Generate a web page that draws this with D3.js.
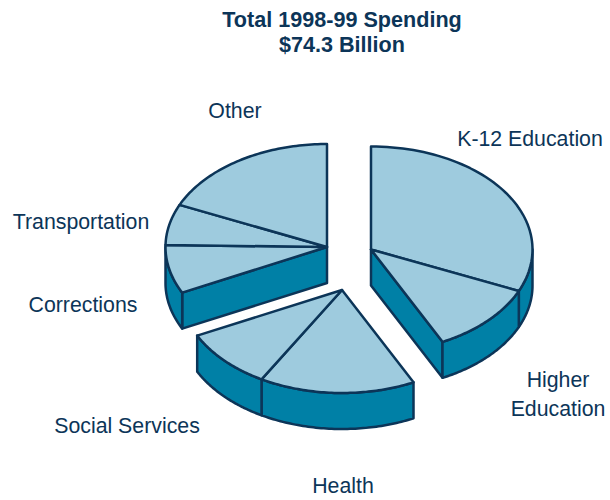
<!DOCTYPE html>
<html>
<head>
<meta charset="utf-8">
<script src="https://cdn.jsdelivr.net/npm/d3@7"></script>
<style>
html,body{margin:0;padding:0;background:#fff}
text{font-family:"Liberation Sans",Arial,sans-serif;fill:#0c3558}
</style>
</head>
<body>
<svg id="chart" width="610" height="500"></svg>
<script>
// Budget shares, percent of total spending, clockwise from twelve o'clock
const categories = ["K-12 Education", "Higher Education", "Health", "Social Services", "Corrections", "Transportation", "Other"];
const shares = [31.6, 11.1, 15.6, 9.4, 7.6, 6.4, 18.3];
const titleLines = ["Total 1998-99 Spending", "$74.3 Billion"];

const INK = "#0c3558", TOP = "#9ecbde", SIDE = "#0080a6";
const RX = 161.5, RY = 103, DEPTH = 36;

// Slices are pulled apart in three groups, each with its own apex
const clusters = [
  {members: [0, 1], cx: 371, cy: 249.5},
  {members: [2, 3], cx: 342, cy: 290},
  {members: [4, 5, 6], cx: 327, cy: 247}
];
const labelLayout = {
  "K-12 Education":  {x: 530, y: 146, lines: ["K-12 Education"]},
  "Higher Education":{x: 558, y: [387, 416], lines: ["Higher", "Education"]},
  "Health":          {x: 343, y: 493, lines: ["Health"]},
  "Social Services": {x: 127, y: 433, lines: ["Social Services"]},
  "Corrections":     {x: 83,  y: 312, lines: ["Corrections"]},
  "Transportation":  {x: 81,  y: 229, lines: ["Transportation"]},
  "Other":           {x: 235, y: 118, lines: ["Other"]}
};

const svg = d3.select("#chart");
const arcs = d3.pie().sort(null).value(d => d)(shares);

// Elliptical projection: angle measured clockwise from the top
const xScale = d3.scaleLinear().domain([-1, 1]).range([-RX, RX]);
const yScale = d3.scaleLinear().domain([-1, 1]).range([-RY, RY]);
const rimPoint = a => [xScale(Math.sin(a)), yScale(-Math.cos(a))];
const line = d3.line();
const rim = (a0, a1) => d3.range(0, 61).map(i => rimPoint(a0 + (a1 - a0) * i / 60));

const style = sel => sel.attr("stroke", INK).attr("stroke-width", 2.5).attr("stroke-linejoin", "round");

clusters.forEach(c => {
  const g = svg.append("g").attr("transform", `translate(${c.cx},${c.cy})`);
  const first = arcs[c.members[0]].startAngle;
  const last = arcs[c.members[c.members.length - 1]].endAngle;

  // Flat cut wall, visible on the leading edge of a slice group in the lower half
  if (Math.sin(first) < 0) {
    g.append("path").call(style).attr("fill", SIDE)
      .attr("d", line([[0, 0], rimPoint(first), [rimPoint(first)[0], rimPoint(first)[1] + DEPTH], [0, DEPTH]]) + "Z");
  }
  if (Math.sin(last) > 0 && last < Math.PI) {
    g.append("path").call(style).attr("fill", SIDE)
      .attr("d", line([[0, 0], rimPoint(last), [rimPoint(last)[0], rimPoint(last)[1] + DEPTH], [0, DEPTH]]) + "Z");
  }

  // Outer curved wall, only where the rim faces the viewer
  c.members.forEach(i => {
    const a0 = Math.max(arcs[i].startAngle, Math.PI / 2);
    const a1 = Math.min(arcs[i].endAngle, Math.PI * 1.5);
    if (a1 <= a0) return;
    const upper = rim(a0, a1);
    const lower = upper.map(p => [p[0], p[1] + DEPTH]).reverse();
    g.append("path").call(style).attr("fill", SIDE).attr("d", line(upper.concat(lower)) + "Z");
  });

  // Top faces
  c.members.forEach(i => {
    const pts = [[0, 0]].concat(rim(arcs[i].startAngle, arcs[i].endAngle));
    g.append("path").call(style).attr("fill", TOP).attr("d", line(pts) + "Z");
  });
});

// Category labels
categories.forEach(name => {
  const l = labelLayout[name];
  l.lines.forEach((t, i) => {
    svg.append("text").attr("x", l.x).attr("y", Array.isArray(l.y) ? l.y[i] : l.y)
      .attr("text-anchor", "middle").attr("font-size", 21.3).text(t);
  });
});

// Title
titleLines.forEach((t, i) => {
  svg.append("text").attr("x", 342).attr("y", 27 + i * 25)
    .attr("text-anchor", "middle").attr("font-size", 21.6).attr("font-weight", "bold").text(t);
});
</script>
</body>
</html>
